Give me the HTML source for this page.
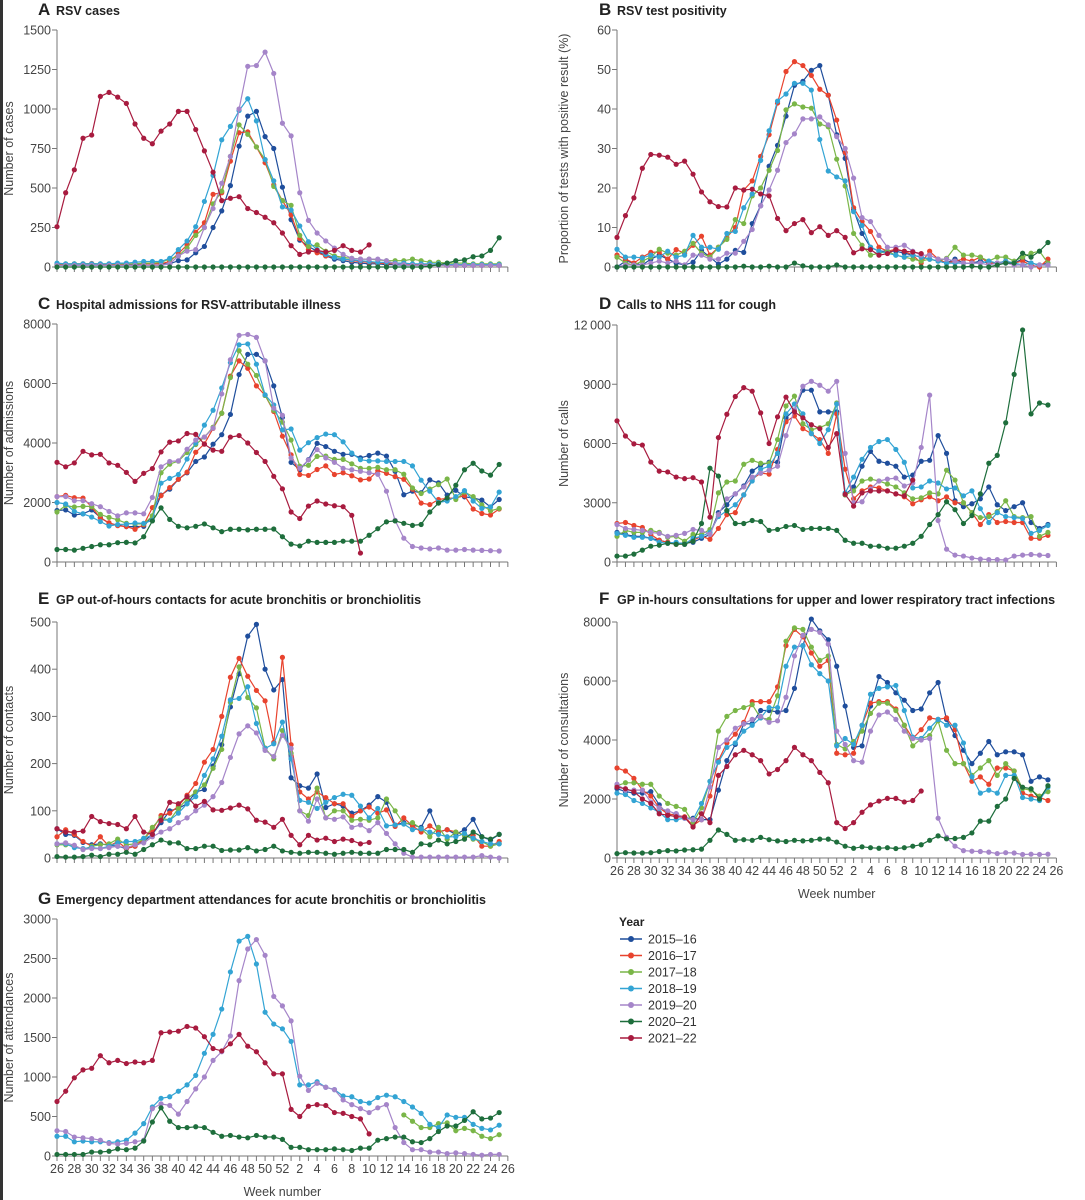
<!DOCTYPE html>
<html><head><meta charset="utf-8"><style>
body{margin:0;background:#fff;}
svg{display:block;font-family:"Liberation Sans",sans-serif;}
</style></head><body>
<svg id="fig" width="1085" height="1200" viewBox="0 0 1085 1200">
<rect x="0" y="0" width="3" height="1200" fill="#333"/>
<g id="legend">
<text x="619" y="926" font-size="12" font-weight="bold" fill="#222">Year</text>
</g>
</svg>
<script>
const years=["2015–16","2016–17","2017–18","2018–19","2019–20","2020–21","2021–22"];
const colors=["#1f4e9c","#e8432e","#7ab648","#33a4d4","#a585c9","#1e6e3c","#a81b3f"];
const N=null;
// Panel A – RSV cases
const aBlue=[10,10,10,10,10,10,15,15,15,15,20,20,20,20,40,45,90,130,250,355,515,765,955,985,825,750,505,300,170,130,100,70,50,40,30,25,20,20,15,15,12,12,10,10,10,10,10,10,10,10,10,10];
const aRed=[15,18,20,20,22,18,15,15,18,20,20,20,20,35,85,140,220,280,460,470,670,850,855,760,660,520,420,330,180,110,90,70,60,50,40,35,30,25,22,20,18,15,15,12,12,10,10,10,10,10,10,10];
const aGreen=[20,20,20,20,20,20,20,20,20,20,25,25,30,50,70,120,200,250,400,480,700,900,840,760,680,510,420,390,200,130,140,100,70,60,55,50,50,45,40,40,40,50,40,30,30,25,25,25,20,20,20,20];
const aCyan=[25,20,20,20,20,20,20,25,25,30,35,35,35,55,110,165,255,415,580,805,890,990,1065,925,680,545,380,360,260,160,110,80,60,50,45,40,35,30,30,25,25,20,20,20,20,15,15,15,15,15,15,15];
const aPurple=[10,10,10,10,10,10,10,10,10,10,10,10,10,20,70,100,110,250,370,530,700,1000,1270,1275,1360,1225,910,830,470,295,215,165,120,80,55,50,50,50,40,20,15,10,10,10,10,10,10,10,10,10,10,10];
const aDkGreen=[0,0,0,0,0,0,0,0,0,0,0,0,0,0,0,0,0,0,0,0,0,0,0,0,0,0,0,0,0,0,0,0,0,0,0,0,0,0,0,0,0,0,0,5,15,25,40,45,65,70,105,185];
const aCrimson=[255,470,615,815,835,1080,1105,1075,1035,905,815,780,860,905,985,985,870,735,600,420,435,445,370,345,315,280,215,135,80,95,105,95,105,135,105,95,140];
// Panel B – test positivity
const bBlue=[0,1.5,1,0.5,2,3,2,1,0.5,1.2,4.2,2.5,0.7,2,4.2,3.7,11,15.5,25.5,30.8,38.2,46,47,49.8,51,43.5,33.5,27.5,14.5,8.5,5,4,4,4,3.5,3,2.5,2,1.5,1,2,1,1,1.5,1,1,1,1,2,1,0.5,1];
const bRed=[3,2,1,2.5,3.7,3.8,2,4.4,3.5,5.5,7.8,3,5,7.5,10,19.5,21.8,28,33.5,41.5,49.5,52,51,48.5,45,43.5,37.2,29,15,11.5,9,5,4,4.5,4,3,1,4,2,1,1.5,2,1.5,2.5,1,1,1.5,1,1.5,0.5,0,2];
const bGreen=[2.5,1,0.5,1.5,2.5,4.5,3.5,3,4,6,3.5,2.5,5,7,12,11,18,20,24.5,29.5,39.8,41.3,40.5,40.2,36.2,35.5,27.3,20.5,8.5,5.5,3,3.5,4,3,2.5,2,1.5,2,1.5,2.2,5,3,3,2.5,1.5,2.5,2.5,1.5,2.5,3.5,4,1];
const bCyan=[4.5,2.5,2.5,2.3,3,2.5,4,2.5,3,8,5,5,4.5,8.5,9,15,18.5,27,34.5,42,43.8,46.5,46.5,44.8,32.3,24.3,22.8,21.8,14,10.5,5,4,3.5,3,2.5,3,2.5,2,1.5,1,1,1,1,1,1.5,1,1.5,1,0.5,1,0.5,0.5];
const bPurple=[0,0.5,0.5,0.5,1,1.5,1,1.5,0.5,3,3,2,2,3.5,3.5,6.5,9.5,15.5,19.5,24.5,31.5,33.7,37.5,37.5,38,36,33,30,22.5,12.5,11.5,8,5,5,5.5,4,3,3,2,2,1.5,1,1,1,0.5,1,1,0.5,0.5,0,0.5,0.5];
const bDkGreen=[0,0,0,0,0,0,0,0,0,0,0,0,0,0,0,0.2,0,0,0.2,0,0,1,0.3,0,0,0,0.5,0,0,0,0,0,0,0,0,0,0,0,0,0,0,0,0.2,0,0,0.5,1,1,3.5,2.5,4,6.2];
const bCrimson=[7.5,13,17.5,25,28.5,28.3,27.8,26,26.8,23.5,19,16.5,15.3,15.2,20,19.5,19.7,18.5,18,12.3,9.2,11,12,8.7,10.2,8,9.2,7.5,3.6,4.6,4.4,3,3.4,4.4,4,3.8,3.4];
// Panel C – hospital admissions
const cBlue=[1730,1750,1580,1620,1750,1500,1300,1240,1190,1190,1200,1550,2250,2450,2780,3000,3380,3530,3960,4280,4960,6300,6980,6980,6760,5920,4860,3350,3100,3440,3990,3880,3720,3620,3620,3500,3580,3660,3560,3050,2260,2380,2330,2760,2660,2250,2410,2190,2150,2080,1850,2100];
const cRed=[2200,2240,2160,2150,1850,1480,1320,1220,1190,1100,1250,1830,2230,2500,2780,3020,3690,3970,4490,5000,6250,6760,6510,5920,5600,5060,4230,3600,2940,2910,3110,3230,2940,3000,2900,2760,2790,3070,2980,2870,2780,2450,1980,1930,2100,2140,2150,2230,1780,1630,1580,1780];
const cGreen=[1680,1900,1850,1870,1870,1600,1500,1420,1300,1280,1280,1550,3000,3290,3390,3680,3950,4200,4530,5000,6200,7100,6650,6270,5600,5100,4700,4100,3220,3250,3550,3560,3450,3450,3300,3150,3150,3180,3100,3100,2950,2490,2300,2450,2600,2790,2100,2350,2200,1920,1720,1800];
const cCyan=[2000,1950,1700,1620,1510,1360,1210,1260,1270,1310,1300,1400,2650,2810,2940,3460,4000,4600,5100,5850,6700,7300,7330,6650,5620,5280,4440,4470,3760,4010,4180,4300,4280,4040,3660,3440,3400,3400,3380,3380,3380,3230,2750,2380,2000,2050,2200,2400,2050,1800,1850,2350];
const cPurple=[2200,2200,2060,2060,1960,1860,1700,1550,1650,1650,1620,2170,3200,3380,3400,3790,4100,4200,4500,5650,6800,7620,7650,7550,6760,5170,4930,3500,3150,3430,3780,3500,3350,3150,3100,3050,3000,2950,2380,1400,800,520,470,440,470,400,400,420,400,390,380,370];
const cDkGreen=[420,420,400,460,520,580,580,650,660,640,850,1380,1820,1430,1200,1150,1200,1280,1150,1020,1100,1100,1080,1100,1100,1110,850,600,540,700,660,660,660,700,700,700,900,1120,1350,1380,1300,1230,1260,1680,1980,2150,2580,3100,3320,3060,2920,3280];
const cCrimson=[3350,3200,3330,3720,3600,3620,3330,3250,3010,2710,2980,3140,3700,4030,4070,4320,4290,3960,3760,3720,4200,4250,4000,3680,3380,2880,2460,1680,1460,1880,2050,1950,1890,1860,1570,300];
// Panel D – NHS 111 calls
const dBlue=[1500,1400,1300,1300,1200,1100,1000,950,950,1000,1200,1400,2500,2900,3450,3850,4600,4900,5050,5050,7300,7700,8700,8700,7600,7600,7600,3400,3800,4850,5600,5100,5000,4850,4300,4400,5100,5150,6400,5500,3100,2800,2950,3200,3800,2900,2600,2800,3000,2000,1700,1900];
const dRed=[1950,2000,1850,1750,1400,1100,1000,900,900,1100,1300,1150,1700,2400,2500,3400,4200,4500,4450,5700,7100,7400,6750,6500,6200,5500,7500,4700,3200,3600,3800,3750,3600,3450,3300,2950,3150,3300,3100,3300,3000,3000,2500,1900,2400,2000,2050,2000,2000,1200,1200,1350];
const dGreen=[1300,1600,1500,1500,1600,1500,1250,1300,1050,1400,1400,1650,3500,4050,4100,4950,5150,5000,5000,6200,7900,8400,7000,6700,6800,7000,8050,3400,3600,4100,4200,4100,3950,3800,3500,3200,3250,3500,3450,4650,4150,3000,2500,2250,2300,2550,3100,2300,2250,2300,1300,1500];
const dCyan=[1450,1350,1250,1250,1200,1000,950,1000,900,1200,1300,1500,2300,2600,2900,3400,4100,4700,4850,5500,7500,8000,7500,6500,6000,6700,8000,3500,4300,5200,5800,6100,6200,5700,5050,3750,3800,4100,4000,3700,3750,3350,3600,2700,2000,2500,2300,2250,2200,1450,1600,1850];
const dPurple=[1900,1700,1650,1600,1500,1450,1300,1350,1450,1650,1600,1400,2400,3200,3450,3800,4300,4500,4650,4850,6400,7700,8900,9150,8950,8650,9150,5500,3000,3050,3700,4100,4200,4250,3850,4000,5800,8450,2100,650,350,300,200,150,120,120,100,300,350,380,350,330];
const dDkGreen=[300,300,400,600,800,850,950,900,900,1050,1950,4750,4350,2600,1950,1950,2100,2050,1600,1650,1800,1850,1650,1700,1700,1700,1600,1100,950,950,800,800,700,700,800,950,1300,1900,2400,3050,2650,1950,2350,3450,5000,5400,7050,9500,11750,7500,8050,7950];
const dCrimson=[7150,6380,5980,5920,5060,4600,4560,4300,4220,4270,4050,2270,6300,7480,8380,8830,8650,7550,6000,7350,8350,7600,7300,6950,6750,5800,6500,3430,2830,3500,3600,3600,3600,3450,3350,4150];
// Panel E – GP out-of-hours
const eBlue=[62,50,48,33,28,30,27,25,20,25,35,50,75,100,105,115,140,145,195,240,320,390,470,495,400,356,378,170,153,148,178,107,115,110,95,100,112,130,118,70,75,70,65,100,55,60,50,60,82,45,38,50];
const eRed=[45,60,50,35,25,45,25,35,20,25,40,60,90,95,110,133,158,203,230,300,383,423,385,355,333,245,425,240,140,125,140,128,115,115,88,100,108,95,102,67,85,68,55,68,55,60,55,48,48,25,25,35];
const eGreen=[28,28,25,18,25,28,30,40,28,30,40,65,85,80,105,125,140,155,190,230,330,405,340,318,233,210,270,222,100,90,148,85,100,100,80,82,80,85,125,100,72,75,62,45,65,40,55,48,40,35,25,30];
const eCyan=[30,30,22,20,22,20,25,32,35,35,42,48,80,80,95,115,130,175,210,258,335,338,363,285,232,242,288,210,122,118,105,118,128,135,133,110,85,105,68,70,72,60,62,55,50,45,45,52,42,35,30,30];
const ePurple=[30,32,27,18,20,20,22,25,22,28,32,45,55,62,75,85,100,112,130,160,213,263,280,265,228,215,260,232,100,78,125,85,82,87,65,70,58,75,52,30,10,2,2,2,2,2,2,2,2,5,2,0];
const eDkGreen=[3,2,2,3,6,3,8,8,12,8,18,28,38,32,32,20,20,25,25,16,17,17,22,15,18,25,15,12,10,12,12,10,8,10,12,10,10,10,18,18,18,12,30,28,38,30,35,40,55,45,40,50];
const eCrimson=[62,55,55,57,88,77,73,71,62,88,55,50,80,118,115,130,110,120,102,101,106,112,104,80,76,65,82,48,28,48,38,42,35,40,37,30,33];
// Panel F – GP in-hours
const fBlue=[2350,2250,2200,2200,2250,1800,1450,1500,1350,1350,1300,1300,2300,3300,3850,4550,4550,5000,5000,4950,5000,5750,7200,8100,7700,7400,6500,5150,3750,3800,5150,6150,5950,5600,5350,5000,5050,5600,5950,4700,4150,3650,3200,3550,3950,3500,3600,3600,3500,2600,2750,2650];
const fRed=[3050,2950,2700,2300,2100,1700,1500,1450,1400,1100,1300,2100,3300,3900,4200,4600,5300,5300,5300,5800,7200,7750,7500,6950,6500,6700,3550,3500,3550,4500,5250,5300,5300,5050,4500,4050,4350,4750,4700,4750,4350,3200,2600,2750,2500,3050,3050,2950,2200,2100,2050,1950];
const fGreen=[2450,2550,2550,2500,2500,2100,1850,1750,1650,1200,1700,2600,4300,4800,5000,5100,5200,4750,4700,5500,7350,7800,7750,7150,6700,6850,3850,3700,3950,4300,4900,5250,5250,5000,4500,3800,4050,4150,4650,3650,3200,3200,2800,3050,3300,2800,3200,2950,2350,2300,2100,2250];
const fCyan=[2200,2150,1950,1850,1700,1550,1300,1300,1350,1300,1850,2600,3250,3750,3900,4300,4500,4750,5100,5100,6500,7150,7200,6550,6250,6000,3800,4050,3850,4500,5550,5750,5800,5850,5000,4100,4050,4400,4700,4500,4500,3900,2750,2200,2300,2200,2800,2800,2050,2000,1950,2400];
const fPurple=[2500,2300,2300,2300,1900,1700,1600,1500,1350,1300,1300,2400,3750,4000,4400,4550,4700,4800,4600,4650,5450,6850,7550,7750,7650,7250,4300,3850,3300,3250,4300,4850,4950,4700,4300,4050,4000,4050,1350,700,400,250,230,220,200,150,180,170,120,130,120,130];
const fDkGreen=[150,180,170,170,180,220,250,240,270,280,300,600,950,800,600,620,600,700,620,580,560,600,580,600,640,640,540,400,330,380,350,330,350,320,350,400,450,600,750,650,660,700,850,1250,1250,1750,2000,2700,2400,2350,2000,2450];
const fCrimson=[2400,2350,2250,2000,1850,1500,1450,1400,1380,1050,1500,1200,2800,3100,3500,3650,3500,3300,2850,3000,3300,3750,3500,3300,2900,2550,1200,1000,1200,1550,1800,1930,2020,2020,1900,1950,2270];
// Panel G – emergency department
const gBlue=[];
const gRed=[];
const gGreen=[N,N,N,N,N,N,N,N,N,N,N,N,N,N,N,N,N,N,N,N,N,N,N,N,N,N,N,N,N,N,N,N,N,N,N,N,N,N,N,N,520,440,360,360,410,420,320,350,320,250,220,270];
const gCyan=[250,250,180,190,180,180,170,180,200,290,410,620,730,750,820,900,1020,1300,1540,1860,2330,2720,2780,2430,1820,1670,1610,1450,900,900,940,870,840,760,750,690,670,740,770,750,690,620,540,400,360,520,490,490,400,350,330,390];
const gPurple=[320,310,240,230,220,200,160,150,160,180,200,600,660,640,530,690,850,1000,1210,1320,1520,2220,2620,2740,2540,2020,1900,1710,1010,830,920,870,840,710,650,600,550,610,650,360,170,80,80,50,50,30,40,30,20,10,20,20];
const gDkGreen=[20,20,20,20,50,50,60,90,80,100,190,430,610,440,360,360,370,360,300,250,260,240,230,260,240,240,210,110,110,80,80,80,90,80,70,100,100,200,220,240,240,180,170,220,310,380,380,450,560,470,480,550];
const gCrimson=[690,820,990,1090,1110,1270,1180,1210,1170,1190,1180,1210,1560,1570,1580,1640,1620,1510,1360,1330,1420,1540,1390,1320,1180,1040,1040,590,500,630,650,640,550,540,500,470,280];

const svg=document.getElementById('fig');
const NS='http://www.w3.org/2000/svg';
function mk(tag,attrs,parent){const e=document.createElementNS(NS,tag);for(const k in attrs)e.setAttribute(k,attrs[k]);(parent||svg).appendChild(e);return e;}
function weekLabel(i){return i<=26?String(26+i):String(i-26);}

function panel(p){
  const g=mk('g',{});
  
  
  const xs=i=>p.x0+i*p.dx;
  const ys=v=>p.y0-(v/p.max)*(p.y0-p.yTop);
  const L=mk('text',{x:p.lx,y:p.ty,'font-size':17,'font-weight':'bold',fill:'#222'},g);L.textContent=p.letter;
  
  
  const T=mk('text',{x:p.lx+18,y:p.ty,'font-size':12.5,'font-weight':'bold',fill:'#222'},g);T.textContent=p.title;
  
  
  const yl=mk('line',{x1:p.x0,y1:p.yTop,x2:p.x0,y2:p.y0,stroke:'#777','stroke-width':1},g);
  
  
  const xl=mk('line',{x1:p.x0,y1:p.y0,x2:xs(52),y2:p.y0,stroke:'#777','stroke-width':1},g);
  
  
  for(let i=0;i<=52;i++){
    const t=mk('line',{x1:xs(i),y1:p.y0,x2:xs(i),y2:p.y0+5,stroke:'#777','stroke-width':1},g);
    
    
    if(p.xlabels&&i%2===0){
      const tl=mk('text',{x:xs(i),y:p.y0+17,'font-size':12.5,fill:'#444','text-anchor':'middle'},g);tl.textContent=weekLabel(i);
      
      
    }
  }
  if(p.xlabels){
    const xt=mk('text',{x:(p.x0+xs(52))/2,y:p.y0+40,'font-size':12.5,fill:'#444','text-anchor':'middle'},g);xt.textContent='Week number';
    
    
  }
  p.ticks.forEach((v,k)=>{
    const t=mk('line',{x1:p.x0-5,y1:ys(v),x2:p.x0,y2:ys(v),stroke:'#777','stroke-width':1},g);
    
    
    const tl=mk('text',{x:p.x0-6,y:ys(v)+4.5,'font-size':12.5,fill:'#444','text-anchor':'end'},g);tl.textContent=p.tickLabels[k];
    
    
  });
  const cy=(p.yTop+p.y0)/2;
  const yt=mk('text',{x:p.ytx,y:cy,'font-size':12.5,fill:'#444','text-anchor':'middle',transform:`rotate(-90 ${p.ytx} ${cy})`},g);yt.textContent=p.ytitle;
  
  
  p.series.forEach((arr,s)=>{
    if(!arr||!arr.length)return;
    const sg=mk('g',{},g);
    
    
    let d='';let pen=false;
    arr.forEach((v,i)=>{if(v===null){pen=false;return;}d+=(pen?'L':'M')+xs(i).toFixed(1)+' '+ys(v).toFixed(1);pen=true;});
    const path=mk('path',{d:d,fill:'none',stroke:colors[s],'stroke-width':1.2},sg);
    
    
    arr.forEach((v,i)=>{if(v===null)return;
      const c=mk('circle',{cx:xs(i),cy:ys(v),r:2.6,fill:colors[s]},sg);
      
      
    });
  });
}
const L0=57,LD=8.67,R0=617,RD=8.45;
panel({letter:'A',title:'RSV cases',lx:38,ty:15,x0:L0,dx:LD,y0:267,yTop:30,max:1500,ticks:[0,250,500,750,1000,1250,1500],tickLabels:['0','250','500','750','1000','1250','1500'],ytitle:'Number of cases',ytx:13,series:[aBlue,aRed,aGreen,aCyan,aPurple,aDkGreen,aCrimson]});
panel({letter:'B',title:'RSV test positivity',lx:599,ty:15,x0:R0,dx:RD,y0:267,yTop:30,max:60,ticks:[0,10,20,30,40,50,60],tickLabels:['0','10','20','30','40','50','60'],ytitle:'Proportion of tests with positive result (%)',ytx:568,series:[bBlue,bRed,bGreen,bCyan,bPurple,bDkGreen,bCrimson]});
panel({letter:'C',title:'Hospital admissions for RSV-attributable illness',lx:38,ty:309,x0:L0,dx:LD,y0:562,yTop:324,max:8000,ticks:[0,2000,4000,6000,8000],tickLabels:['0','2000','4000','6000','8000'],ytitle:'Number of admissions',ytx:13,series:[cBlue,cRed,cGreen,cCyan,cPurple,cDkGreen,cCrimson]});
panel({letter:'D',title:'Calls to NHS 111 for cough',lx:599,ty:309,x0:R0,dx:RD,y0:562,yTop:325,max:12000,ticks:[0,3000,6000,9000,12000],tickLabels:['0','3000','6000','9000','12\u2009000'],ytitle:'Number of calls',ytx:568,series:[dBlue,dRed,dGreen,dCyan,dPurple,dDkGreen,dCrimson]});
panel({letter:'E',title:'GP out-of-hours contacts for acute bronchitis or bronchiolitis',lx:38,ty:604,x0:L0,dx:LD,y0:858,yTop:622,max:500,ticks:[0,100,200,300,400,500],tickLabels:['0','100','200','300','400','500'],ytitle:'Number of contacts',ytx:13,series:[eBlue,eRed,eGreen,eCyan,ePurple,eDkGreen,eCrimson]});
panel({letter:'F',title:'GP in-hours consultations for upper and lower respiratory tract infections',lx:599,ty:604,x0:R0,dx:RD,y0:858,yTop:622,max:8000,ticks:[0,2000,4000,6000,8000],tickLabels:['0','2000','4000','6000','8000'],ytitle:'Number of consultations',ytx:568,xlabels:true,series:[fBlue,fRed,fGreen,fCyan,fPurple,fDkGreen,fCrimson]});
panel({letter:'G',title:'Emergency department attendances for acute bronchitis or bronchiolitis',lx:38,ty:904,x0:L0,dx:LD,y0:1156,yTop:919,max:3000,ticks:[0,500,1000,1500,2000,2500,3000],tickLabels:['0','500','1000','1500','2000','2500','3000'],ytitle:'Number of attendances',ytx:13,xlabels:true,series:[gBlue,gRed,gGreen,gCyan,gPurple,gDkGreen,gCrimson]});

const lg=document.getElementById('legend');
years.forEach((y,k)=>{
  const yy=939+k*16.5;
  const e=mk('g',{},lg);
  
  
  mk('line',{x1:620,y1:yy,x2:642,y2:yy,stroke:colors[k],'stroke-width':1.4},e);
  mk('circle',{cx:631,cy:yy,r:3,fill:colors[k]},e);
  const t=mk('text',{x:648,y:yy+4.5,'font-size':12.5,fill:'#333'},e);t.textContent=y;
});
</script>
</body></html>
